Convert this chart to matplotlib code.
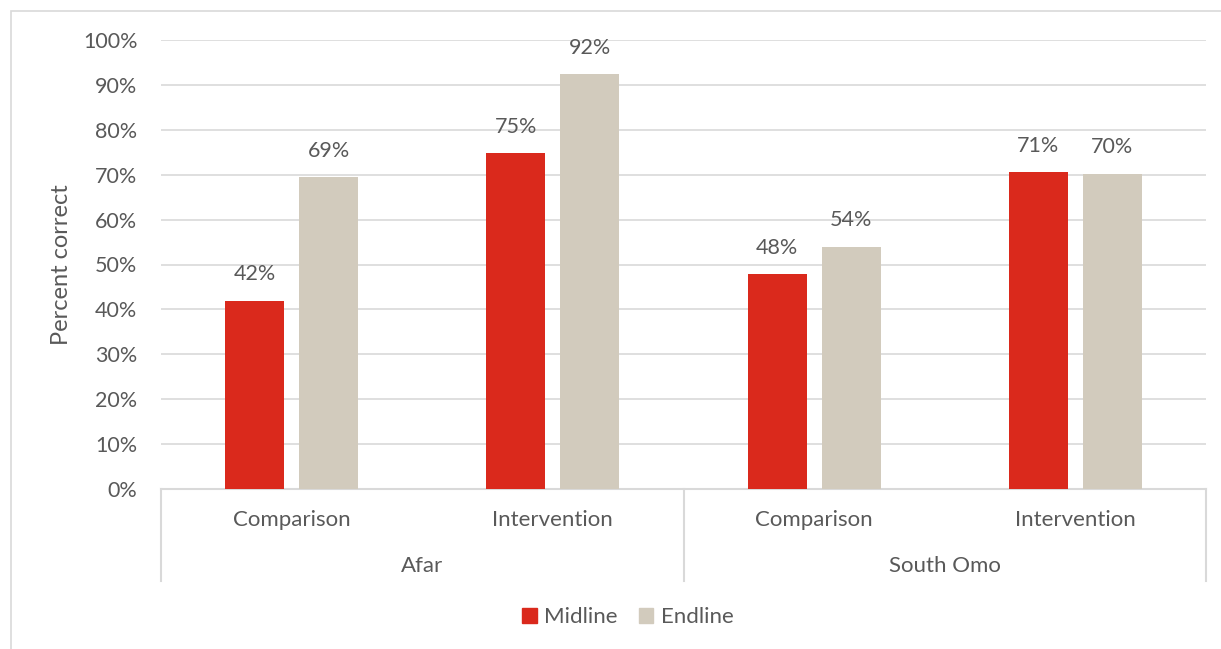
import matplotlib.pyplot as plt
from matplotlib.patches import Rectangle, Patch
from matplotlib.lines import Line2D
import numpy as np

plt.rcParams['font.family'] = ['Lato', 'DejaVu Sans']

# Data
regions = ['Afar', 'South Omo']
arms = ['Comparison', 'Intervention', 'Comparison', 'Intervention']
midline = [0.419, 0.748, 0.479, 0.706]
endline = [0.694, 0.924, 0.540, 0.702]
yticks = [0, 0.1, 0.2, 0.3, 0.4, 0.5, 0.6, 0.7, 0.8, 0.9, 1.0]

red = '#DA291C'
beige = '#D2CBBD'
grid_c = '#D9D9D9'
text_c = '#595959'
fs = 15.5

W, H = 1221, 649
fig = plt.figure(figsize=(W / 100, H / 100), dpi=100)

# outer chart border
fig.patches.append(Rectangle((11 / W, -0.1), 1.2, 1 - 11 / H + 0.1, transform=fig.transFigure,
                             fill=False, edgecolor=grid_c, lw=1.2))

x0, x1 = 161, 1206
y0, y1 = 489, 40
ax = fig.add_axes([x0 / W, (H - y0) / H, (x1 - x0) / W, (y0 - y1) / H])

x = np.arange(len(arms))
bw = 0.226
off = 0.1418
b1 = ax.bar(x - off, midline, bw, color=red, label='Midline', zorder=3)
b2 = ax.bar(x + off, endline, bw, color=beige, label='Endline', zorder=3)

for bars in (b1, b2):
    for b in bars:
        v = b.get_height()
        ax.annotate(f'{v * 100:.0f}%', (b.get_x() + b.get_width() / 2, v),
                    xytext=(0, 19), textcoords='offset points',
                    ha='center', va='center', fontsize=fs, color=text_c)

ax.set_xlim(-0.5, len(arms) - 0.5)
ax.set_ylim(0, 1)
ax.set_yticks(yticks)
ax.set_yticklabels([f'{int(round(t * 100))}%' for t in yticks], fontsize=fs, color=text_c)
ax.tick_params(axis='y', length=0, pad=17)
ax.set_xticks([])
ax.grid(axis='y', color=grid_c, lw=1.2, zorder=0)
for s in ['top', 'right', 'left']:
    ax.spines[s].set_visible(False)
ax.spines['bottom'].set_color(grid_c)
ax.spines['bottom'].set_linewidth(1.5)

fig.text(62 / W, 1 - 265 / H, 'Percent correct', rotation=90, ha='center', va='center',
         fontsize=17, color=text_c)

# two-level category axis
trans = ax.get_xaxis_transform()
sep_bottom = -(581 - y0) / (y0 - y1)
for xs in [-0.5, 1.5, 3.5]:
    ax.add_line(Line2D([xs, xs], [0, sep_bottom], transform=trans, color=grid_c,
                       lw=1.5, clip_on=False))
for i, a in enumerate(arms):
    ax.text(i, -(520 - y0) / (y0 - y1), a, transform=trans, ha='center', va='center',
            fontsize=16, color=text_c)
for j, r in enumerate(regions):
    ax.text(2 * j + 0.5, -(566 - y0) / (y0 - y1), r, transform=trans, ha='center',
            va='center', fontsize=16, color=text_c)

handles = [Patch(color=red, label='Midline'), Patch(color=beige, label='Endline')]
fig.legend(handles=handles, loc='center', bbox_to_anchor=(628 / W, 1 - 617 / H), ncol=2,
           frameon=False, fontsize=16, labelcolor=text_c, handlelength=0.65, handleheight=0.65,
           handletextpad=0.35, columnspacing=0.95)

fig.savefig('out.png', dpi=100)
